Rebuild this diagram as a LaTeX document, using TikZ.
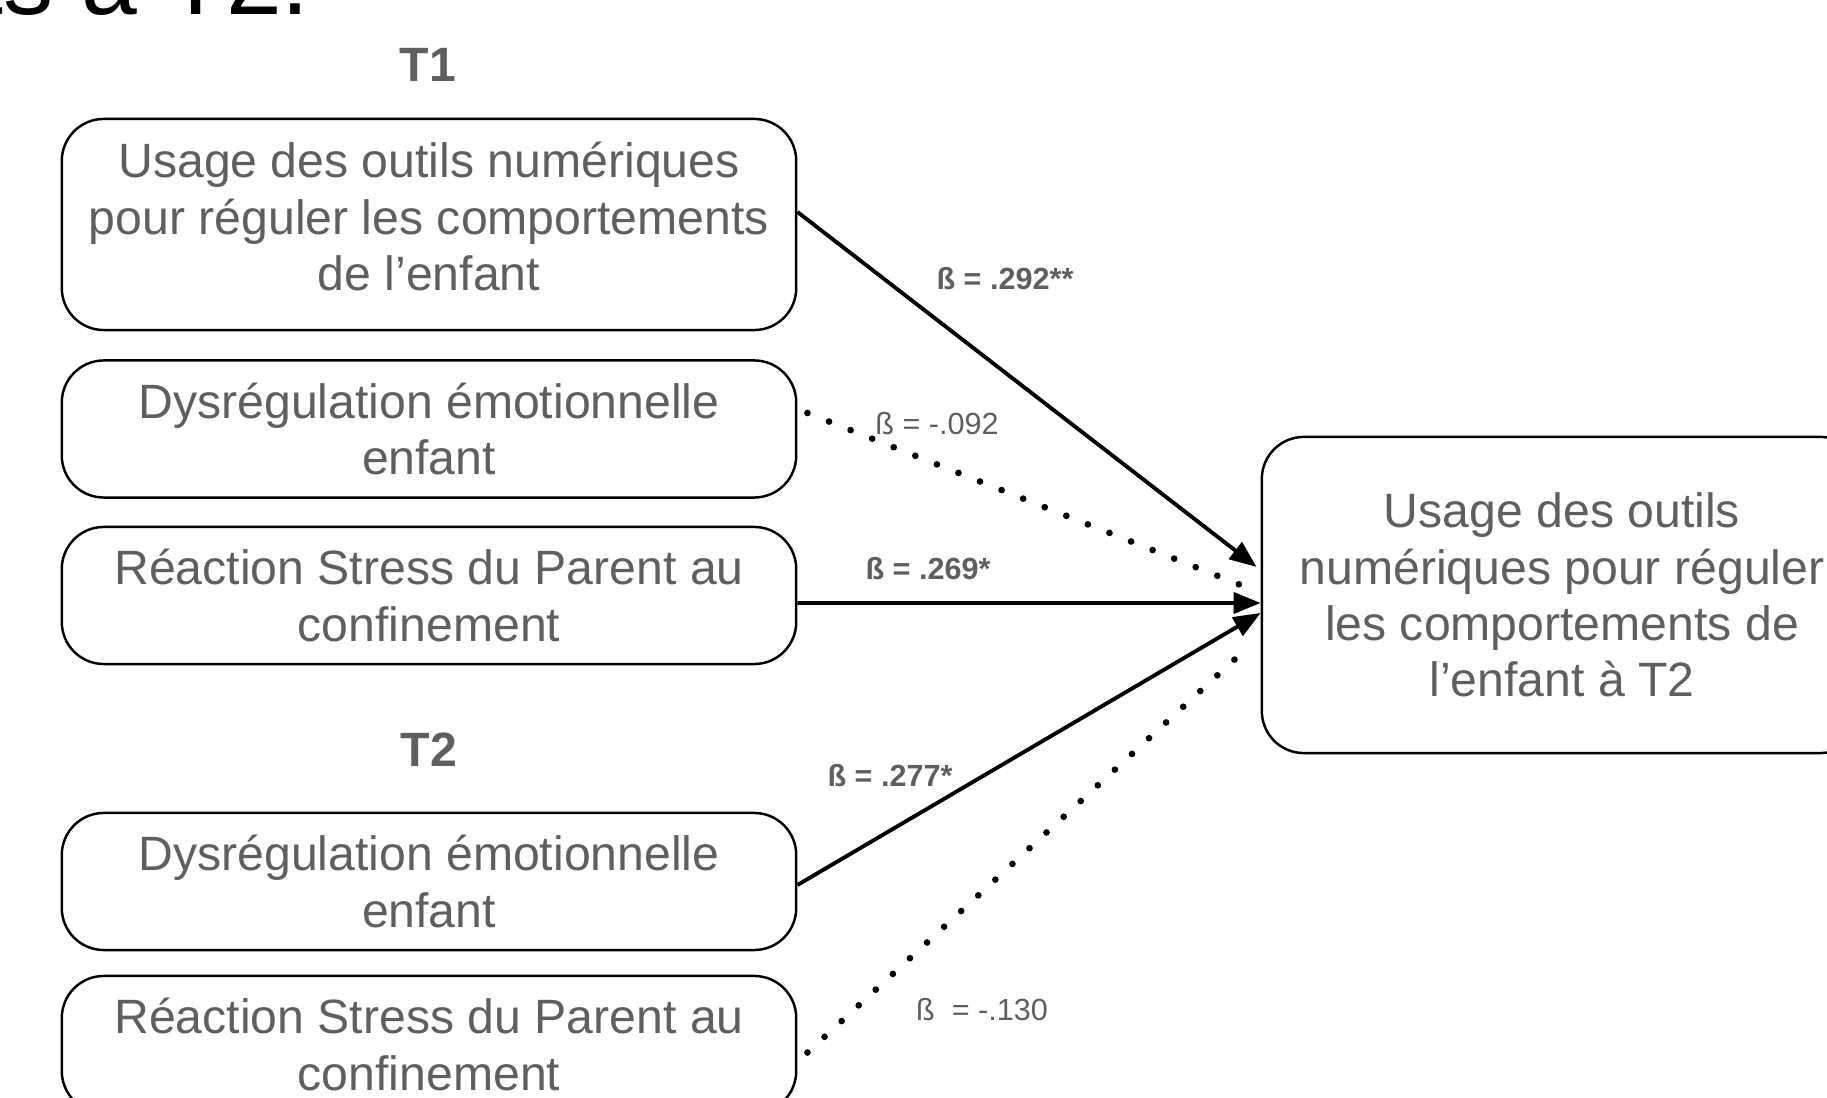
\documentclass[tikz,border=0pt]{standalone}
\usepackage{fontspec}
\setmainfont{Liberation Sans}
\usepackage{tikz}
\usetikzlibrary{arrows.meta,positioning}
\definecolor{boxtext}{RGB}{95,95,95}

\begin{document}
\begin{tikzpicture}[x=0.01cm, y=-0.01cm,
  varbox/.style={draw, line width=0.7pt, rounded corners=0.42cm, align=center,
    text=boxtext, font=\fontsize{13.7}{16}\selectfont, inner sep=0pt,
    minimum width=7.34cm, minimum height=1.37cm},
  timelbl/.style={text=boxtext, font=\bfseries\fontsize{13.7}{16}\selectfont},
  coef/.style={text=boxtext, inner sep=0pt, font=\fontsize{8.7}{10}\selectfont},
  sigcoef/.style={coef, font=\bfseries\fontsize{8.7}{10}\selectfont},
  sigpath/.style={line width=1.1pt, -{Triangle[length=0.27cm,width=0.21cm]}},
  nspath/.style={line width=1.9pt, line cap=round, dash pattern=on 0pt off 6.6pt}]
\useasboundingbox (0,0) rectangle (1827,1098);
\clip (0,0) rectangle (1827,1098);

% Title (cut by the slide)
\node[anchor=base west, inner sep=0pt, font=\fontsize{28.5}{34}\selectfont] (titre) at (-25,15) {ts à T2.};

% T1 predictors
\node[timelbl] (t1) at (428,65) {T1};
\node[varbox, minimum height=2.11cm] (usageT1) at (429,224.5) {Usage des outils numériques\\pour réguler les comportements\\de l’enfant\rule[-0.16cm]{0pt}{0.16cm}};
\node[varbox] (dysT1) at (429,429) {Dysrégulation émotionnelle\\enfant};
\node[varbox] (stressT1) at (429,595.5) {Réaction Stress du Parent au\\confinement};

% T2 predictors
\node[timelbl] (t2) at (429,750) {T2};
\node[varbox] (dysT2) at (429,881.5) {Dysrégulation émotionnelle\\enfant};
\node[varbox] (stressT2) at (429,1044.5) {Réaction Stress du Parent au\\confinement};

% Outcome
\node[varbox, minimum width=6cm, minimum height=3.16cm] (usageT2) at (1562,595) {Usage des outils\\numériques pour réguler\\les comportements de\\l’enfant à T2};

% Paths
\draw[sigpath] ([yshift=0.125cm]usageT1.east) -- ([yshift=0.28cm,xshift=-0.04cm]usageT2.west);
\draw[nspath] ([yshift=0.16cm,xshift=0.1cm]dysT1.east) -- ([yshift=0.1cm,xshift=-0.2cm]usageT2.west);
\draw[sigpath] ([yshift=-0.075cm]stressT1.east) -- ([yshift=-0.08cm]usageT2.west);
\draw[sigpath] ([yshift=-0.035cm]dysT2.east) -- ([yshift=-0.18cm]usageT2.west);
\draw[nspath] ([yshift=-0.08cm,xshift=0.1cm]stressT2.east) -- ([yshift=-0.58cm,xshift=-0.19cm]usageT2.west);

% Coefficients
\node[sigcoef] (b1) at (1005,279) {ß = .292**};
\node[coef] (b2) at (937,424) {ß = -.092};
\node[sigcoef] (b3) at (928,569) {ß = .269*};
\node[sigcoef] (b4) at (890,776) {ß = .277*};
\node[coef] (b5) at (982,1010) {ß\ \ = -.130};
\end{tikzpicture}
\end{document}
